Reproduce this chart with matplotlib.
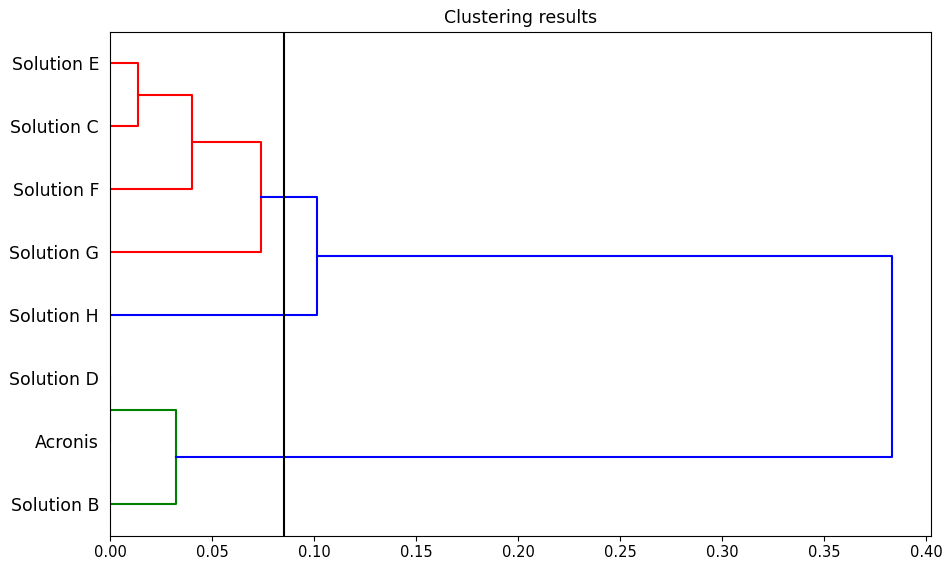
import matplotlib
matplotlib.use("Agg")
import matplotlib.pyplot as plt

# Leaves, bottom to top
labels = ['Solution B', 'Acronis', 'Solution D', 'Solution H',
          'Solution G', 'Solution F', 'Solution C', 'Solution E']
# Merges: (child_a, child_b, distance, colour); leaves are 0..7, new nodes 8+
merge_a = [2, 8, 7, 10, 11, 12, 13]
merge_b = [1, 0, 6, 5, 4, 3, 9]
merge_dist = [0.0, 0.0322, 0.0139, 0.0404, 0.0742, 0.1015, 0.3832]
merge_color = ['g', 'g', 'r', 'r', 'r', 'b', 'b']
threshold = 0.0853
title = 'Clustering results'

fig = plt.figure(figsize=(9.43, 5.66), dpi=100)
ax = fig.add_axes([0.1166, 0.0535, 0.8706, 0.8905])

# positions of nodes (leaf position / height)
pos = {i: 5 + 10 * i for i in range(len(labels))}
hgt = {i: 0.0 for i in range(len(labels))}
n = len(labels)
for k, (a, b, d, c) in enumerate(zip(merge_a, merge_b, merge_dist, merge_color)):
    ya, yb = pos[a], pos[b]
    xs = [hgt[a], d, d, hgt[b]]
    ys = [ya, ya, yb, yb]
    ax.plot(xs, ys, color=c, linewidth=1.5)
    pos[n + k] = (ya + yb) / 2.0
    hgt[n + k] = d

ax.axvline(threshold, color='k', linewidth=1.5)

ax.set_xlim(0, max(merge_dist) * 1.05)
ax.set_ylim(0, 10 * len(labels))
ax.set_yticks([5 + 10 * i for i in range(len(labels))])
ax.set_yticklabels(labels, fontsize=12.5)
for t in ax.get_yticklines():
    t.set_visible(False)
ax.tick_params(axis='y', pad=4.3)
ax.tick_params(axis='x', labelsize=10.5)
ax.set_title(title, fontsize=12.5, pad=6)

fig.savefig('out.png', dpi=100)
